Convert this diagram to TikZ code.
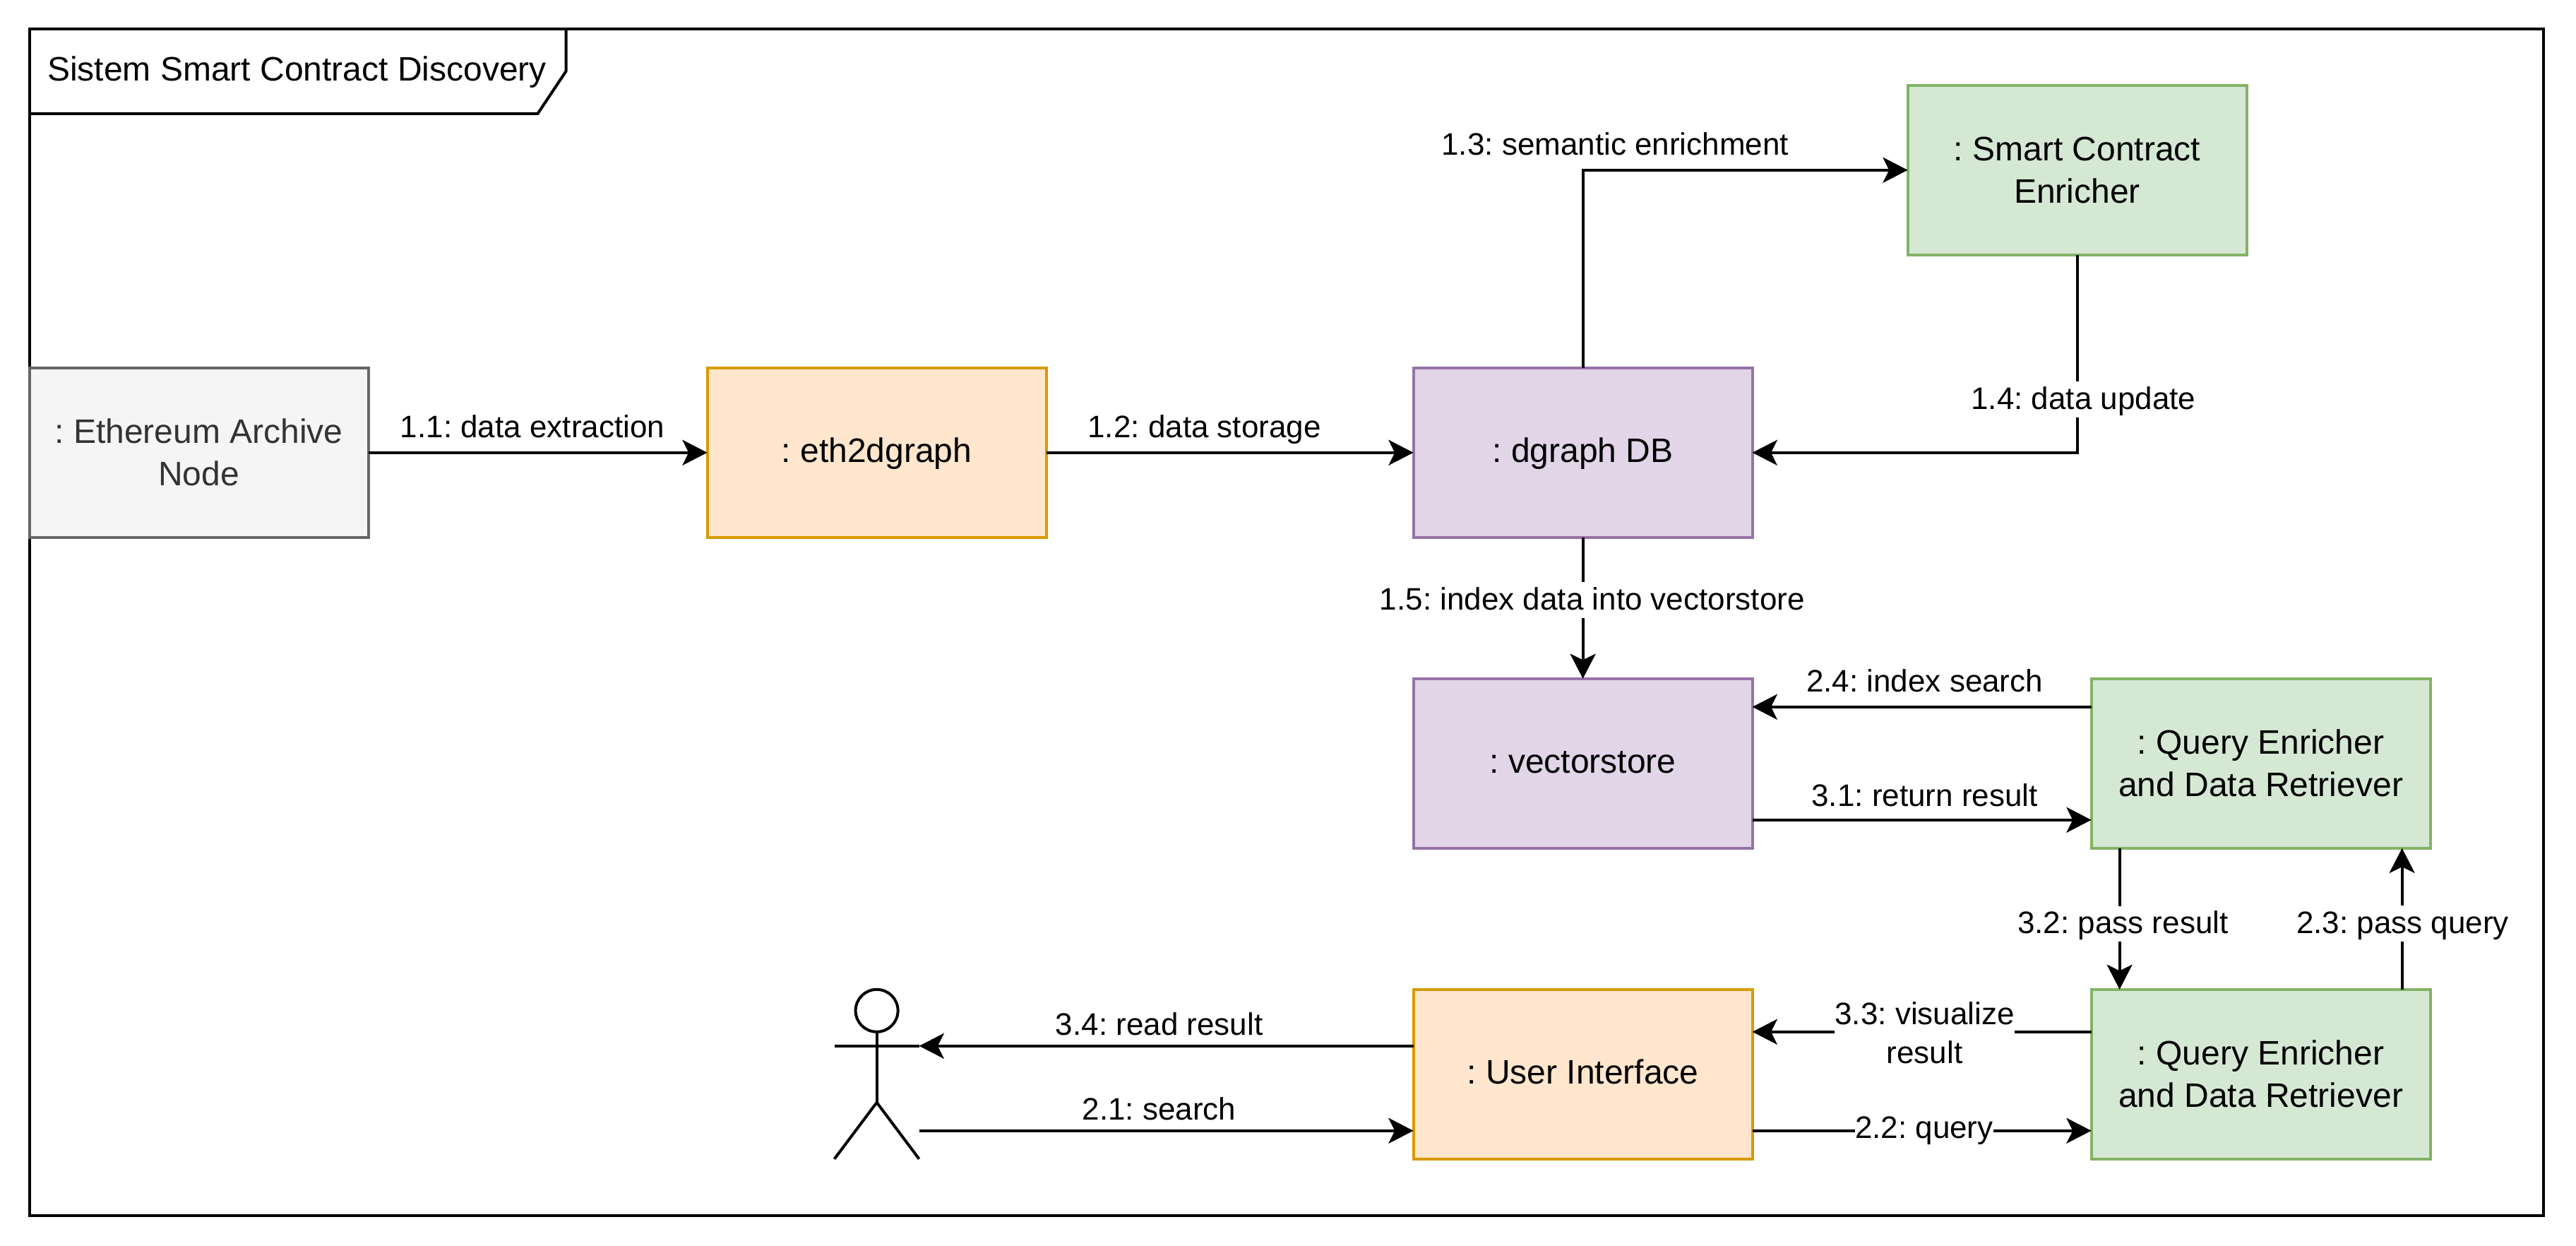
\documentclass[tikz,border=0pt]{standalone}
\usepackage{fontspec}
\setmainfont{Liberation Sans}
\usetikzlibrary{arrows.meta}
\definecolor{grayfill}{HTML}{F5F5F5}
\definecolor{graydraw}{HTML}{666666}
\definecolor{graytext}{HTML}{333333}
\definecolor{orangefill}{HTML}{FFE6CC}
\definecolor{orangedraw}{HTML}{D79B00}
\definecolor{purplefill}{HTML}{E1D5E7}
\definecolor{purpledraw}{HTML}{9673A6}
\definecolor{greenfill}{HTML}{D5E8D4}
\definecolor{greendraw}{HTML}{82B366}
\tikzset{
  objbox/.style={draw, line width=1pt, minimum width=120pt, minimum height=60pt,
    outer sep=0pt, inner sep=2pt, align=center,
    font=\fontsize{12}{15}\selectfont\frenchspacing},
  oneline/.style={text height=9.7pt, text depth=3.1pt},
  archivebox/.style={objbox, fill=grayfill, draw=graydraw, text=graytext},
  appbox/.style={objbox, fill=orangefill, draw=orangedraw},
  storebox/.style={objbox, fill=purplefill, draw=purpledraw},
  servicebox/.style={objbox, fill=greenfill, draw=greendraw},
  msg/.style={draw, line width=1pt, -{Stealth[length=8.8pt, width=9pt, inset=2.2pt]}},
  msgtext/.style={inner sep=0pt, align=center,
    font=\fontsize{11}{13.8}\selectfont\frenchspacing},
  msglabel/.style={msgtext, text height=9.7pt, text depth=3pt},
  msgcut/.style={msglabel, fill=white}
}
\begin{document}
\begin{tikzpicture}[x=1pt, y=-1pt]
  \useasboundingbox (0,0) rectangle (912,441);

  % Frame and its title tab
  \coordinate (framenw) at (10.4,10.2);
  \coordinate (framese) at (900.4,430.2);
  \draw[line width=1pt] (framenw) rectangle (framese);
  \draw[line width=1pt] (200.4,10.2) -- (200.4,25.2) -- (190.4,40.2) -- (10.4,40.2);
  \node[anchor=west, inner sep=0pt, font=\fontsize{12}{15}\selectfont\frenchspacing] (frametitle)
    at (16.6,25.6) {Sistem Smart Contract Discovery};

  % Objects
  \node[archivebox] (archive) at (70.4,160.2) {: Ethereum Archive\\Node};
  \node[appbox, oneline] (ethgraph) at (310.4,160.2) {: eth2dgraph};
  \node[storebox, oneline] (dgraph) at (560.4,160.2) {: dgraph DB};
  \node[servicebox] (enricher) at (735.4,60.2) {: Smart Contract\\Enricher};
  \node[storebox, oneline] (vectorstore) at (560.4,270.2) {: vectorstore};
  \node[servicebox] (retrievertop) at (800.4,270.2) {: Query Enricher\\and Data Retriever};
  \node[servicebox] (retrieverbot) at (800.4,380.2) {: Query Enricher\\and Data Retriever};
  \node[appbox, oneline] (ui) at (560.4,380.2) {: User Interface};

  % Actor
  \node[minimum width=30pt, minimum height=60pt, inner sep=0pt, outer sep=0pt] (actor)
    at (310.4,380.2) {};
  \coordinate (armright) at (325.4,370.2);
  \coordinate (footright) at (325.4,400.2);
  \coordinate (hip) at (310.4,390.2);
  \draw[line width=1pt] (310.4,357.7) circle (7.5pt);
  \draw[line width=1pt] (310.4,365.2) -- (hip);
  \draw[line width=1pt] (295.4,370.2) -- (armright);
  \draw[line width=1pt] (actor.south west) -- (hip) -- (actor.south east);

  % Attachment points away from the box centres
  \coordinate (upperq) at (740.4,250.2);
  \coordinate (lowerq) at (740.4,290.2);
  \coordinate (visq) at (740.4,365.2);
  \coordinate (queryq) at (740.4,400.2);
  \coordinate (resultx) at (750.4,300.2);
  \coordinate (queryx) at (850.4,350.2);

  % Connectors
  \draw[msg] (archive) -- (ethgraph);
  \draw[msg] (ethgraph) -- (dgraph);
  \draw[msg] (dgraph.north) |- (enricher.west);
  \draw[msg] (enricher.south) |- (dgraph.east);
  \draw[msg] (dgraph) -- (vectorstore);
  \draw[msg] (upperq) -- (vectorstore.east |- upperq);
  \draw[msg] (vectorstore.east |- lowerq) -- (lowerq);
  \draw[msg] (resultx) -- (resultx |- retrieverbot.north);
  \draw[msg] (queryx) -- (queryx |- retrievertop.south);
  \draw[msg] (visq) -- (ui.east |- visq);
  \draw[msg] (ui.east |- queryq) -- (queryq);
  \draw[msg] (ui.west |- armright) -- (armright);
  \draw[msg] (footright) -- (ui.west |- footright);

  % Labels
  \node[msglabel] (msgextract) at (188.5,151.5) {1.1: data extraction};
  \node[msglabel] (msgstore) at (426.4,151.5) {1.2: data storage};
  \node[msglabel] (msgsemantic) at (571.8,51.5) {1.3: semantic enrichment};
  \node[msgcut] (msgupdate) at (737.6,141.4) {1.4: data update};
  \node[msgcut] (msgindex) at (563.7,212.4) {1.5: index data into vectorstore};
  \node[msglabel] (msgsearch) at (410.4,393) {2.1: search};
  \node[msgcut] (msgquery) at (681.2,399.6) {2.2: query};
  \node[msgcut] (msgpassq) at (850.6,326.9) {2.3: pass query};
  \node[msglabel] (msgisearch) at (681.4,241.4) {2.4: index search};
  \node[msglabel] (msgreturn) at (681.4,282) {3.1: return result};
  \node[msgcut] (msgpassr) at (751.6,327) {3.2: pass result};
  \node[msgtext, fill=white] (msgvis) at (681.4,365.5) {3.3: visualize\\result};
  \node[msglabel] (msgread) at (410.4,363) {3.4: read result};
\end{tikzpicture}
\end{document}
